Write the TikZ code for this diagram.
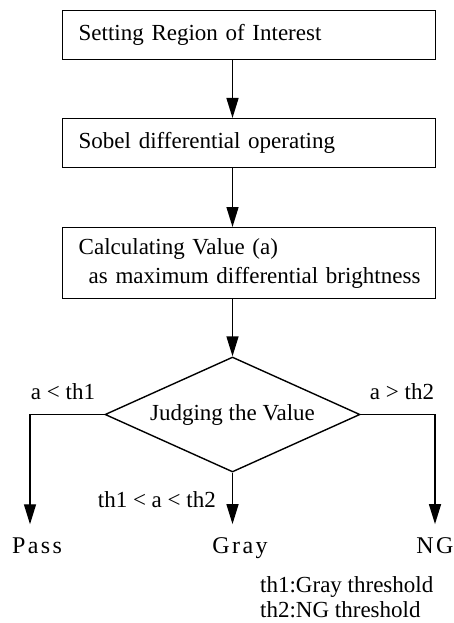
\documentclass[tikz,border=0pt]{standalone}
\usepackage{fontspec}
\setmainfont{Liberation Serif}
\usetikzlibrary{shapes.geometric,arrows.meta}

\begin{document}
\begin{tikzpicture}[x=1pt,y=-1pt,font=\fontsize{23}{29}\selectfont,
    stepbox/.style={draw,line width=1.4pt,minimum width=373pt,minimum height=49pt,
      text width=341pt,inner xsep=16pt,inner ysep=0pt,align=left,anchor=north west},
    decide/.style={draw,line width=1.4pt,diamond,aspect=2.2,inner sep=0pt,
      minimum width=255pt,minimum height=115pt},
    flow/.style={line width=1.4pt,-{Triangle[length=20pt,width=12pt]}},
    result/.style={inner sep=0pt,outer ysep=13pt,anchor=base,
      font=\fontsize{24}{29}\selectfont\addfontfeatures{LetterSpace=10}},
    cond/.style={inner sep=0pt}]
    \useasboundingbox (0,0) rectangle (454,623);
    %the three processing steps
    \node[stepbox] (roi) at (62,10) {Setting Region of Interest};
    \node[stepbox] (sobel) at (62,118) {Sobel differential operating};
    \node[stepbox,minimum height=71pt] (calc) at (62,227)
        {Calculating Value (a)\\\hspace*{10pt}\mbox{as maximum differential brightness}};
    %decision and its three outcomes
    \node[decide] (judge) at (232.5,414.5) {Judging the Value};
    \node[result] (pass) at (37,553) {Pass};
    \node[result] (gray) at (240,553) {Gray};
    \node[result] (ng) at (435,553) {NG};
    \draw[flow] (judge |- roi.south) -- (judge |- sobel.north);
    \draw[flow] (judge |- sobel.south) -- (judge |- calc.north);
    \draw[flow] (judge |- calc.south) -- (judge.north);
    \draw[flow] (judge.west) -| ([xshift=-7pt]pass.north);
    \draw[flow] (judge.south) -- (judge.south |- gray.north);
    \draw[flow] (judge.east) -| (ng.north);
    \node[cond] (lo) at (63,392) {a < th1};
    \node[cond] (hi) at (402,392) {a > th2};
    \node[cond,anchor=east] (mid) at (216,500) {th1 < a < th2};
    %legend
    \node[cond,anchor=base west,align=left,font=\fontsize{23}{25}\selectfont] (legend) at (260,617)
        {th1:Gray threshold\\th2:NG threshold};
\end{tikzpicture}
\end{document}
